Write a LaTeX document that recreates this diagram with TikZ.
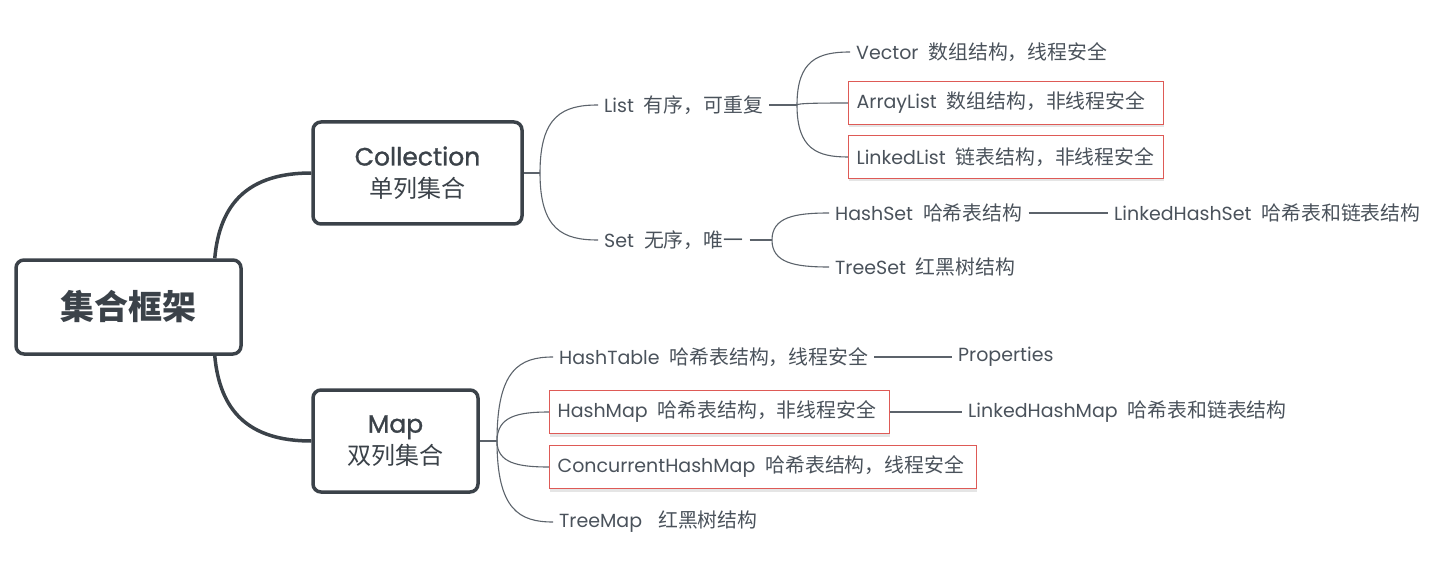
\documentclass[tikz,border=0pt]{standalone}
\usepackage{fontspec}
\setmainfont{Poppins}
\newfontfamily\cjk{Noto Sans CJK SC}[Scale=1.045]
\newfontfamily\popm{Poppins}[FakeBold=1.2]
\usetikzlibrary{calc,shadows}
\definecolor{ink}{HTML}{3B4249}
\definecolor{txt}{HTML}{4A525B}
\definecolor{thin}{HTML}{5C636B}
\definecolor{redb}{HTML}{DE5A56}
\newcommand\zh[1]{{\cjk #1}}
\newcommand\gap{\hspace{10pt}}
\newcommand\brcurve[2]{\draw[leafline] (#1) .. controls ($(#1)!0.85!(#1|-#2)$) and ($(#2-|#1)!0.4!(#2)$) .. (#2);}
\tikzset{
  mainbox/.style={draw=ink, line width=3.5pt, rounded corners=8pt, fill=white, text=ink, align=center,
    font=\fontsize{25}{32}\selectfont},
  mainline/.style={draw=ink, line width=3.5pt},
  leafline/.style={draw=thin, line width=1.1pt},
  stubline/.style={draw=thin, line width=2.2pt},
  leaf/.style={anchor=west, inner xsep=6pt, inner ysep=0pt, text=txt, font=\fontsize{19}{22}\selectfont},
  redbox/.style={anchor=west, draw=redb, line width=1.2pt, fill=white, inner xsep=8pt, inner ysep=0pt,
    minimum height=43pt, text=txt, font=\fontsize{19}{22}\selectfont,
    drop shadow={shadow xshift=0pt, shadow yshift=-3pt, opacity=0.10, fill=black}},
}
\begin{document}
\begin{tikzpicture}[x=1pt,y=-1pt]
\useasboundingbox (0,0) rectangle (1439,577);
% main nodes
\node[mainbox, minimum width=225pt, minimum height=94pt, font=\fontsize{32.5}{40}\selectfont] (root) at (128.5,307) {\zh{\bfseries 集合框架}};
\node[mainbox, minimum width=209pt, minimum height=102pt] (coll) at (417.5,173)
  {\popm Collection\\{\fontsize{23}{32}\selectfont\zh{单列集合}}};
\node[mainbox, minimum width=165pt, minimum height=102pt] (map) at (395.5,441)
  {\popm Map\\{\fontsize{23}{32}\selectfont\zh{双列集合}}};
% main curves
\draw[mainline] ([xshift=-28pt]root.north east) .. controls +(5,-55) and +(-63,0) .. (coll.west);
\draw[mainline] ([xshift=-28pt]root.south east) .. controls +(5,55) and +(-63,0) .. (map.west);
% branch points
\coordinate (cb) at (540,173);
\coordinate (lb) at (797,105);
\coordinate (sb) at (772,240);
\coordinate (mb) at (497,441);
% leaf nodes
\node[leaf] (list) at (598,105) {List\gap\zh{有序，可重复}};
\node[leaf] (set) at (598,240) {Set\gap\zh{无序，唯一}};
\node[leaf] (vec) at (850,52) {Vector\gap\zh{数组结构，线程安全}};
\node[leaf] (hs) at (829,213) {HashSet\gap\zh{哈希表结构}};
\node[leaf] (lhs) at (1108,213) {LinkedHashSet\gap\zh{哈希表和链表结构}};
\node[leaf] (ts) at (829,267) {TreeSet\gap\zh{红黑树结构}};
\node[leaf] (ht) at (553,357) {HashTable\gap\zh{哈希表结构，线程安全}};
\node[leaf] (prop) at (952,357) {Properties};
\node[leaf] (lhm) at (962,412) {LinkedHashMap\gap\zh{哈希表和链表结构}};
\node[leaf] (tm) at (553,522) {TreeMap\hspace{16pt}\zh{红黑树结构}};
% connectors
\draw[leafline, line width=1.5pt] (coll.east) -- (cb);
\brcurve{cb}{list.west}
\brcurve{cb}{set.west}
\draw[stubline] (list.east) -- (lb);
\draw[stubline] (set.east) -- (sb);
\brcurve{lb}{vec.west}
\brcurve{sb}{hs.west}
\brcurve{sb}{ts.west}
\draw[leafline, line width=1.5pt] (hs.east) -- (lhs.west);
\draw[leafline, line width=1.5pt] (map.east) -- (mb);
\brcurve{mb}{ht.west}
\brcurve{mb}{tm.west}
\draw[stubline] (ht.east) -- (prop.west);
% boxed leaves
\coordinate (alw) at (848,103);
\coordinate (llw) at (848,157);
\coordinate (hmw) at (549,412);
\coordinate (chmw) at (549,467);
\brcurve{lb}{alw}
\brcurve{lb}{llw}
\brcurve{mb}{hmw}
\brcurve{mb}{chmw}
\node[redbox] (al) at (alw) {\makebox[299pt][l]{ArrayList\gap\zh{数组结构，非线程安全}}};
\node[redbox] (ll) at (llw) {\makebox[299pt][l]{LinkedList\gap\zh{链表结构，非线程安全}}};
\node[redbox] (hm) at (hmw) {\makebox[324pt][l]{HashMap\gap\zh{哈希表结构，非线程安全}}};
\node[redbox] (chm) at (chmw) {\makebox[411pt][l]{ConcurrentHashMap\gap\zh{哈希表结构，线程安全}}};
\draw[stubline] (hm.east) -- (lhm.west);
\end{tikzpicture}
\end{document}
